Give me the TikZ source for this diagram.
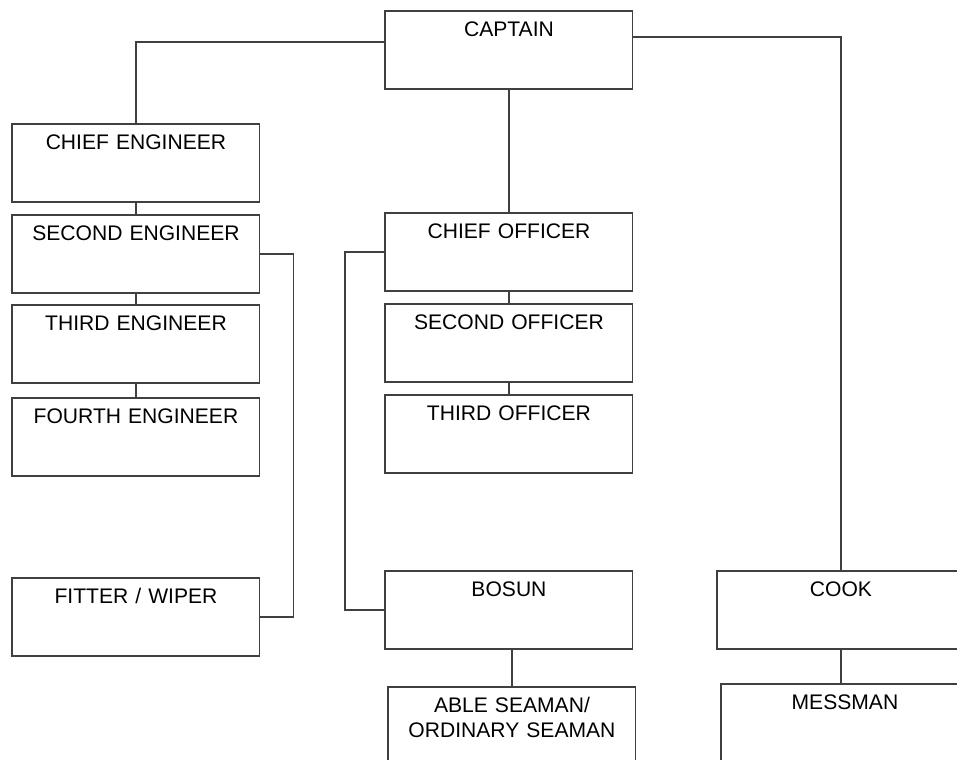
\documentclass[tikz,border=0pt]{standalone}
\usepackage{fontspec}
\setmainfont{Liberation Sans}
\begin{document}
\begin{tikzpicture}[x=0.02cm, y=-0.02cm,
    post/.style={draw=black!75, line width=0.6pt, rectangle, anchor=north west,
      inner sep=0pt, outer sep=0pt, text width=4.96cm, align=center,
      text height=0.52cm, text depth=1.04cm, font=\fontsize{12}{13.7}\selectfont},
    link/.style={draw=black!75, line width=0.6pt}]
  \path[use as bounding box, clip] (0,0) rectangle (957,760);

  \node[post] (captain) at (385,11) {CAPTAIN};
  % engine side
  \node[post] (chiefeng) at (12,124) {CHIEF ENGINEER};
  \node[post] (secondeng) at (12,215) {SECOND ENGINEER};
  \node[post] (thirdeng) at (12,305) {THIRD ENGINEER};
  \node[post] (fourtheng) at (12,398) {FOURTH ENGINEER};
  \node[post] (fitter) at (12,578) {FITTER / WIPER};
  % deck side
  \node[post] (chiefoff) at (385,213) {CHIEF OFFICER};
  \node[post] (secondoff) at (385,304) {SECOND OFFICER};
  \node[post] (thirdoff) at (385,395) {THIRD OFFICER};
  \node[post] (bosun) at (385,571) {BOSUN};
  \node[post] (seaman) at (388,687) {ABLE SEAMAN/\\ORDINARY SEAMAN};
  % galley
  \node[post] (cook) at (717,571) {COOK};
  \node[post] (messman) at (721,684) {MESSMAN};

  \draw[link] (captain.west |- 0,42) -| (chiefeng);
  \draw[link] (captain.east |- 0,37) -| (cook);
  \draw[link] (captain) -- (chiefoff);
  \draw[link] (chiefeng) -- (secondeng);
  \draw[link] (secondeng) -- (thirdeng);
  \draw[link] (thirdeng) -- (fourtheng);
  \draw[link] (secondeng.east) -- ++(34,0) |- (fitter.east);
  \draw[link] (chiefoff.west) -- ++(-40,0) |- (bosun.west);
  \draw[link] (chiefoff) -- (secondoff);
  \draw[link] (secondoff) -- (thirdoff);
  \draw[link] (seaman.north |- bosun.south) -- (seaman.north);
  \draw[link] (cook.south) -- (cook.south |- messman.north);
\end{tikzpicture}
\end{document}
